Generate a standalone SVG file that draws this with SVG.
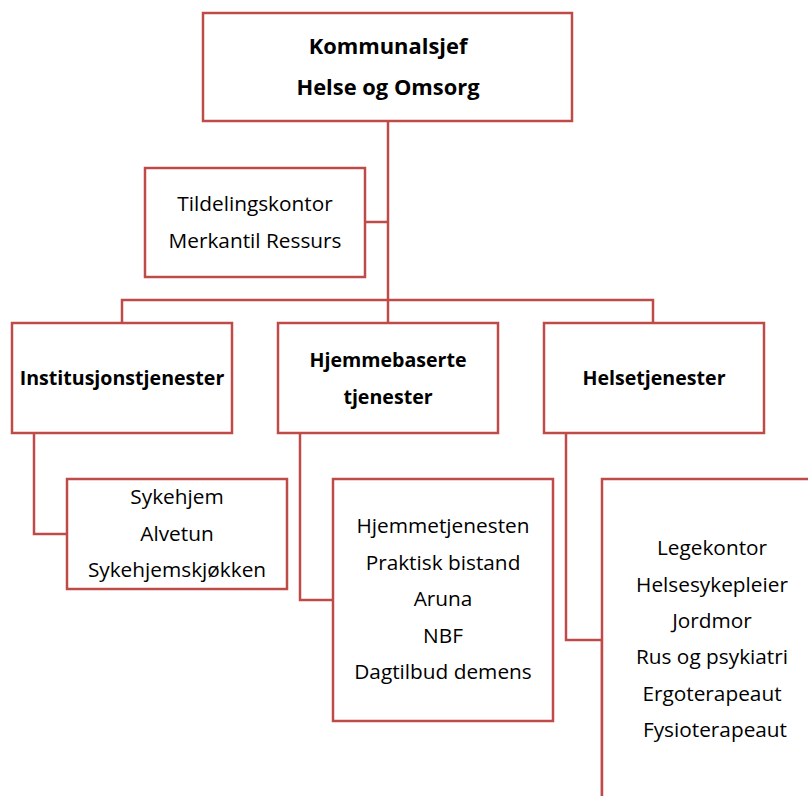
<svg xmlns="http://www.w3.org/2000/svg" width="808" height="796" viewBox="0 0 808 796">
<style>
.box{fill:#fff;stroke:#BE4B48;stroke-width:2.5}
.ln{fill:none;stroke:#BE4B48;stroke-width:2.5}
text{font-family:"Open Sans","Noto Sans",sans-serif;fill:#000;text-anchor:middle}
.r{font-size:20.8px}
.b{font-size:19.6px;font-weight:bold}
.t{font-size:21.9px;font-weight:bold}
</style>
<rect width="808" height="796" fill="#fff"/>
<g id="connectors">
<polyline class="ln" points="388,121 388,323"/>
<polyline class="ln" points="365,222 388,222"/>
<polyline class="ln" points="122,323 122,300 653,300 653,323"/>
<polyline class="ln" points="34,433 34,534 67,534"/>
<polyline class="ln" points="300,433 300,600 333,600"/>
<polyline class="ln" points="566,433 566,640 602,640"/>
<polyline class="ln" points="602,640 602,796"/>
</g>
<g id="kommunalsjef">
<rect class="box" x="203" y="13" width="369" height="108"/>
<text class="t" x="388" y="54">Kommunalsjef</text>
<text class="t" x="388" y="95">Helse og Omsorg</text>
</g>
<g id="tildeling">
<rect class="box" x="145" y="168" width="220" height="109"/>
<text class="r" x="255" y="211">Tildelingskontor</text>
<text class="r" x="255" y="248">Merkantil Ressurs</text>
</g>
<g id="institusjon">
<rect class="box" x="12" y="323" width="220" height="110"/>
<text class="b" x="122" y="385">Institusjonstjenester</text>
</g>
<g id="hjemmebaserte">
<rect class="box" x="278" y="323" width="220" height="110"/>
<text class="b" x="388" y="367">Hjemmebaserte</text>
<text class="b" x="388" y="404">tjenester</text>
</g>
<g id="helsetjenester">
<rect class="box" x="544" y="323" width="220" height="110"/>
<text class="b" x="654" y="385">Helsetjenester</text>
</g>
<g id="sykehjem">
<rect class="box" x="67" y="479" width="220" height="110"/>
<text class="r" x="177" y="504">Sykehjem</text>
<text class="r" x="177" y="541">Alvetun</text>
<text class="r" x="177" y="577">Sykehjemskjøkken</text>
</g>
<g id="hjemmetjenesten">
<rect class="box" x="333" y="479" width="220" height="242"/>
<text class="r" x="443" y="533">Hjemmetjenesten</text>
<text class="r" x="443" y="570">Praktisk bistand</text>
<text class="r" x="443" y="606">Aruna</text>
<text class="r" x="443" y="643">NBF</text>
<text class="r" x="443" y="679">Dagtilbud demens</text>
</g>
<g id="helse-enheter">
<rect class="box" x="602" y="479" width="220" height="340"/>
<text class="r" x="712" y="555">Legekontor</text>
<text class="r" x="712" y="592">Helsesykepleier</text>
<text class="r" x="712" y="628">Jordmor</text>
<text class="r" x="712" y="664">Rus og psykiatri</text>
<text class="r" x="712" y="701">Ergoterapeaut</text>
<text class="r" x="715" y="737">Fysioterapeaut</text>
</g>
</svg>
